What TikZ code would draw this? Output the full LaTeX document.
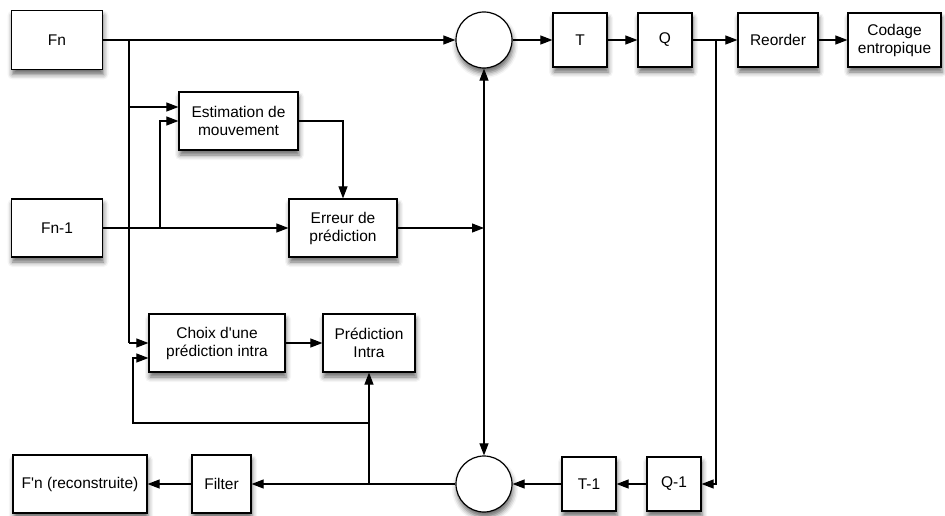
\documentclass[tikz,border=0pt]{standalone}
\usepackage{fontspec}
% plain family: keeps straight apostrophes (no TeX ligature mapping)
\newfontfamily\labelfont{Liberation Sans}
\usetikzlibrary{arrows.meta,shadows.blur}
\begin{document}
\begin{tikzpicture}[x=1pt,y=-1pt,
  every node/.style={font=\labelfont\fontsize{15.5}{18}\selectfont, align=center},
  shade/.style={blur shadow={shadow xshift=1pt, shadow yshift=-5pt, shadow blur radius=5pt, shadow opacity=60}},
  block/.style={draw, line width=1.2pt, fill=white, rectangle, inner sep=0pt, shade},
  sumnode/.style={draw, line width=1.2pt, fill=white, circle, minimum size=56pt, inner sep=0pt, shade},
  wire/.style={line width=1.1pt},
  flow/.style={wire, -{Triangle[length=12pt,width=9pt]}},
  both/.style={wire, {Triangle[length=12pt,width=9pt]}-{Triangle[length=12pt,width=9pt]}}]
\useasboundingbox (0,0) rectangle (945,516);

% blocks
\node[block, minimum width=91pt, minimum height=59pt] (fn)   at (57,40)  {Fn};
\node[block, minimum width=91pt, minimum height=58pt] (fn1)  at (57,228) {Fn-1};
\node[block, minimum width=119pt, minimum height=58pt] (est) at (238.5,121) {Estimation de\\mouvement};
\node[block, minimum width=108pt, minimum height=58pt] (err) at (343,228) {Erreur de\\prédiction};
\node[sumnode] (sumA) at (484,40) {};
\node[block, minimum width=54pt, minimum height=54pt] (t)    at (580,40) {T};
\node[block, minimum width=54pt, minimum height=54pt] (q)    at (665,40) {Q};
\node[block, minimum width=80pt, minimum height=54pt] (reo)  at (778,40) {Reorder};
\node[block, minimum width=93pt, minimum height=54pt] (cod)  at (894.5,40) {Codage\\entropique};
\node[block, minimum width=136pt, minimum height=58pt] (cho) at (217,343) {Choix d'une\\prédiction intra};
\node[block, minimum width=92pt, minimum height=58pt] (pin)  at (369,343) {Prédiction\\Intra};
\node[sumnode] (sumB) at (484,484) {};
\node[block, minimum width=54pt, minimum height=54pt] (qi)   at (674,484) {Q-1};
\node[block, minimum width=54pt, minimum height=54pt] (ti)   at (589,484) {T-1};
\node[block, minimum width=59pt, minimum height=58pt] (fil)  at (221.5,484) {Filter};
\node[block, minimum width=134pt, minimum height=58pt] (rec) at (80,484) {F'n (reconstruite)};

% branch points
\coordinate (jA) at (129,40);
\coordinate (jB) at (160,228);
\coordinate (jC) at (716,40);
\coordinate (jD) at (369,484);
\coordinate (jE) at (369,423);
\coordinate (eA) at (484,228);

% current frame
\draw[flow] (fn.east) -- (sumA.west);
\draw[wire] (jA) -- (jA |- cho.west);
\draw[flow] (jA |- cho.west) -- (cho.west);
\draw[flow] (129,107) -- (est.west |- 0,107);

% reference frame
\draw[flow] (fn1.east) -- (err.west);
\draw[flow] (jB) |- (est.west);

% motion estimation to prediction error
\draw[flow] (est.east) -| (err.north);
\draw[flow] (err.east) -- (eA);

% loop between the two summing nodes
\draw[both] (sumA.south) -- (sumB.north);

% forward chain
\draw[flow] (sumA.east) -- (t.west);
\draw[flow] (t.east) -- (q.west);
\draw[flow] (q.east) -- (reo.west);
\draw[flow] (reo.east) -- (cod.west);

% inverse chain
\draw[flow] (jC) |- (qi.east);
\draw[flow] (qi.west) -- (ti.east);
\draw[flow] (ti.west) -- (sumB.east);
\draw[flow] (sumB.west) -- (fil.east);
\draw[flow] (fil.west) -- (rec.east);

% intra prediction
\draw[flow] (jD) -- (pin.south);
\draw[flow] (jE) -- (133,423) -- (133,358) -- (cho.west |- 0,358);
\draw[flow] (cho.east) -- (pin.west);
\end{tikzpicture}
\end{document}
